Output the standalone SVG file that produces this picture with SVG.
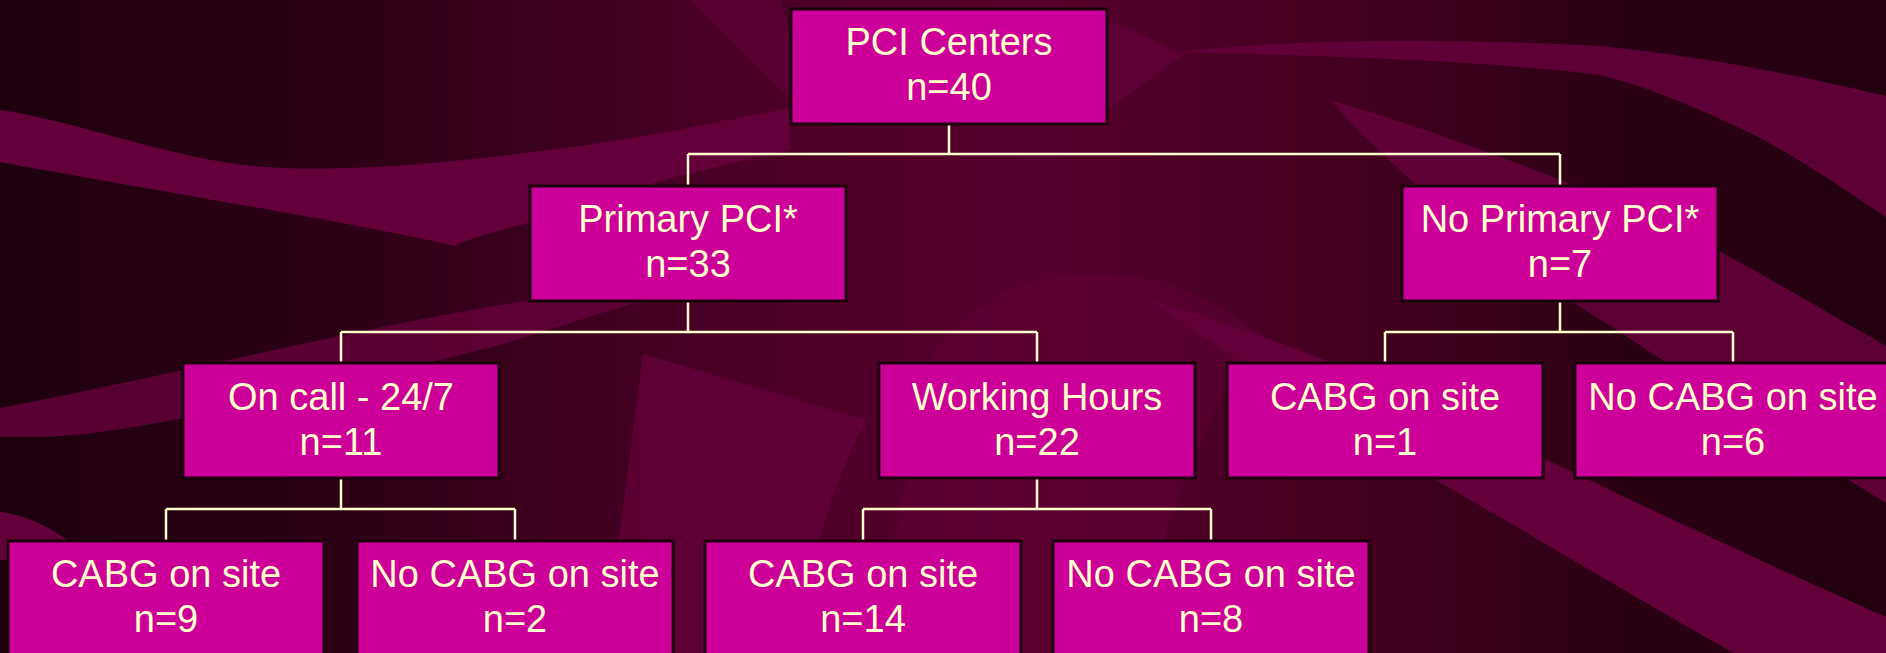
<svg xmlns="http://www.w3.org/2000/svg" width="1886" height="653" viewBox="0 0 1886 653">
  <defs>
    <linearGradient id="bg" x1="0" y1="0" x2="1" y2="0">
      <stop offset="0" stop-color="#1e000d"/>
      <stop offset="0.2" stop-color="#300016"/>
      <stop offset="0.4" stop-color="#4c0026"/>
      <stop offset="0.55" stop-color="#57002d"/>
      <stop offset="0.72" stop-color="#43001f"/>
      <stop offset="0.86" stop-color="#2c0013"/>
      <stop offset="1" stop-color="#22000e"/>
    </linearGradient>
    <style>
      .swoosh { fill: #63003a; }
      .node rect { fill: #cc0099; stroke: #1c000d; stroke-width: 3; }
      .node text { fill: #ffffcc; font-family: "Liberation Sans", Arial, sans-serif; font-size: 38px; text-anchor: middle; }
      #connectors path { fill: none; stroke: #ffffcc; stroke-width: 2.5; }
    </style>
  </defs>

  <g id="background">
    <rect x="0" y="0" width="1886" height="653" fill="url(#bg)"/>
    <path class="swoosh" d="M0,110 C60,118 150,150 223,162 C300,175 420,168 580,146 C650,136 720,122 790,108 L790,150 C700,170 600,195 536,221 C500,230 470,238 455,246 C350,222 180,195 0,162 Z"/>
    <path class="swoosh" opacity="0.85" d="M0,408 C150,380 350,330 500,305 C580,292 640,286 710,282 C640,300 580,320 500,345 C300,395 120,437 40,437 L0,437 Z"/>
    <path class="swoosh" d="M0,512 C30,516 60,530 90,560 L0,560 Z"/>
    <path class="swoosh" opacity="0.8" d="M643,354 L866,420 C840,470 823,520 815,560 L780,653 L604,653 Z"/>
    <path class="swoosh" opacity="0.45" d="M935,347 C980,300 1020,280 1063,276 C1110,272 1160,275 1200,297 C1230,312 1250,325 1260,335 C1200,420 1160,540 1130,653 L870,653 Z"/>
    <path class="swoosh" opacity="0.6" d="M690,0 L780,0 L791,40 L791,100 C750,60 720,30 690,0 Z"/>
    <path class="swoosh" opacity="0.7" d="M1107,20 L1185,54 L1107,110 Z"/>
    <path class="swoosh" opacity="0.9" d="M1180,52 C1320,36 1480,40 1600,46 C1700,56 1800,75 1886,96 L1886,217 C1830,180 1780,145 1733,125 C1680,100 1640,85 1600,75 C1480,60 1320,56 1180,52 Z"/>
    <path class="swoosh" opacity="0.9" d="M1330,100 C1500,150 1650,215 1717,250 C1790,290 1840,320 1886,346 L1886,503 C1800,450 1700,385 1617,330 C1520,270 1420,200 1330,100 Z"/>
    <path class="swoosh" d="M1150,300 C1300,345 1400,390 1500,437 C1650,510 1780,570 1886,617 L1886,653 L1733,653 C1650,605 1580,565 1500,517 C1400,460 1280,390 1150,300 Z"/>
  </g>

  <g id="connectors">
    <path d="M949,124 V154 M688,154 H1560 M688,154 V186 M1560,154 V186"/>
    <path d="M688,301 V332 M341,332 H1037 M341,332 V363 M1037,332 V363"/>
    <path d="M1560,301 V332 M1385,332 H1733 M1385,332 V363 M1733,332 V363"/>
    <path d="M341,478 V509 M166,509 H515 M166,509 V541 M515,509 V541"/>
    <path d="M1037,478 V509 M863,509 H1211 M863,509 V541 M1211,509 V541"/>
  </g>

  <g id="n0" class="node">
    <rect x="791" y="9" width="316" height="115"/>
    <text x="949" y="55">PCI Centers</text>
    <text x="949" y="100">n=40</text>
  </g>
  <g id="n1" class="node">
    <rect x="530" y="186" width="316" height="115"/>
    <text x="688" y="232">Primary PCI*</text>
    <text x="688" y="277">n=33</text>
  </g>
  <g id="n2" class="node">
    <rect x="1402" y="186" width="316" height="115"/>
    <text x="1560" y="232">No Primary PCI*</text>
    <text x="1560" y="277">n=7</text>
  </g>
  <g id="n3" class="node">
    <rect x="183" y="363" width="316" height="115"/>
    <text x="341" y="410">On call - 24/7</text>
    <text x="341" y="455">n=11</text>
  </g>
  <g id="n4" class="node">
    <rect x="879" y="363" width="316" height="115"/>
    <text x="1037" y="410">Working Hours</text>
    <text x="1037" y="455">n=22</text>
  </g>
  <g id="n5" class="node">
    <rect x="1227" y="363" width="316" height="115"/>
    <text x="1385" y="410">CABG on site</text>
    <text x="1385" y="455">n=1</text>
  </g>
  <g id="n6" class="node">
    <rect x="1575" y="363" width="316" height="115"/>
    <text x="1733" y="410">No CABG on site</text>
    <text x="1733" y="455">n=6</text>
  </g>
  <g id="n7" class="node">
    <rect x="8" y="541" width="316" height="115"/>
    <text x="166" y="587">CABG on site</text>
    <text x="166" y="632">n=9</text>
  </g>
  <g id="n8" class="node">
    <rect x="357" y="541" width="316" height="115"/>
    <text x="515" y="587">No CABG on site</text>
    <text x="515" y="632">n=2</text>
  </g>
  <g id="n9" class="node">
    <rect x="705" y="541" width="316" height="115"/>
    <text x="863" y="587">CABG on site</text>
    <text x="863" y="632">n=14</text>
  </g>
  <g id="n10" class="node">
    <rect x="1053" y="541" width="316" height="115"/>
    <text x="1211" y="587">No CABG on site</text>
    <text x="1211" y="632">n=8</text>
  </g>
</svg>
